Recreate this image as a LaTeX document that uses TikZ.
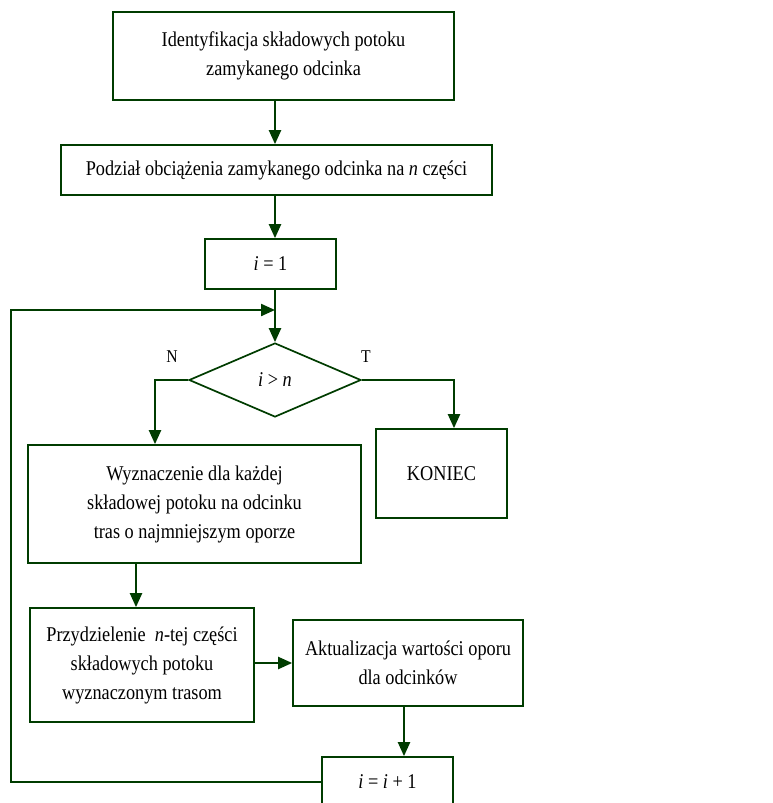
\documentclass[tikz,border=0pt]{standalone}
\usepackage{fontspec}
\setmainfont{Liberation Serif}[FakeStretch=0.87]
\usetikzlibrary{shapes.geometric,arrows.meta}
\definecolor{flowgreen}{RGB}{0,60,0}
\tikzset{
  stepbox/.style={draw=flowgreen,line width=1.7pt,align=center,inner sep=2pt},
  testbox/.style={diamond,draw=flowgreen,line width=1.7pt,aspect=2.3,inner sep=0pt},
  flow/.style={draw=flowgreen,line width=2.2pt,-{Triangle[length=14pt,width=12pt]}},
}
\begin{document}
\begin{tikzpicture}[x=1pt,y=-1pt,font=\fontsize{21}{29}\selectfont]
  \useasboundingbox (0,0) rectangle (773,803);

  % main column
  \node[stepbox,minimum width=341pt,minimum height=88pt] (ident) at (283.5,56)
    {Identyfikacja składowych potoku\\zamykanego odcinka};
  \node[stepbox,minimum width=431pt,minimum height=50pt] (podzial) at (276.5,170)
    {Podział obciążenia zamykanego odcinka na \textit{n} części};
  \node[stepbox,minimum width=131pt,minimum height=50pt] (init) at (270.5,264)
    {\textit{i}~=~1};
  \node[testbox,minimum width=172pt,minimum height=74pt] (test) at (275,380)
    {\textit{i}~>~\textit{n}};

  % branches of the test
  \node[font=\fontsize{18}{21}\selectfont] (lblN) at (172,357) {N};
  \node[font=\fontsize{18}{21}\selectfont] (lblT) at (366,357) {T};
  \node[stepbox,minimum width=333pt,minimum height=118pt] (wyzn) at (194.5,504)
    {Wyznaczenie dla każdej\\składowej potoku na odcinku\\tras o najmniejszym oporze};
  \node[stepbox,minimum width=131pt,minimum height=89pt] (koniec) at (441.5,473.5)
    {KONIEC};

  % loop body
  \node[stepbox,minimum width=224pt,minimum height=114pt] (przydz) at (142,665)
    {Przydzielenie ~\textit{n}-tej części\\składowych potoku\\wyznaczonym trasom};
  \node[stepbox,minimum width=230pt,minimum height=86pt] (aktual) at (408,663)
    {Aktualizacja wartości oporu\\dla odcinków};
  \node[stepbox,minimum width=131pt,minimum height=50pt] (inc) at (387.5,782)
    {\textit{i}~=~\textit{i}~+~1};

  \coordinate (loopcorner) at (11,310);
  \coordinate (joint) at (275,310);

  % connectors
  \draw[flow] (ident.south -| test.north) -- (podzial.north -| test.north);
  \draw[flow] (podzial.south -| test.north) -- (init.north -| test.north);
  \draw[flow] (init.south -| test.north) -- (test.north);
  \draw[flow] (test.west) -| ([xshift=-39.5pt]wyzn.north);
  \draw[flow] (test.east) -| ([xshift=12.5pt]koniec.north);
  \draw[flow] ([xshift=-6pt]przydz.north |- wyzn.south) -- ([xshift=-6pt]przydz.north);
  \draw[flow] (przydz.east |- aktual.west) -- (aktual.west);
  \draw[flow] ([xshift=16.5pt]inc.north |- aktual.south) -- ([xshift=16.5pt]inc.north);
  \draw[flow] (inc.west) -| (loopcorner) -- (joint);
\end{tikzpicture}
\end{document}
